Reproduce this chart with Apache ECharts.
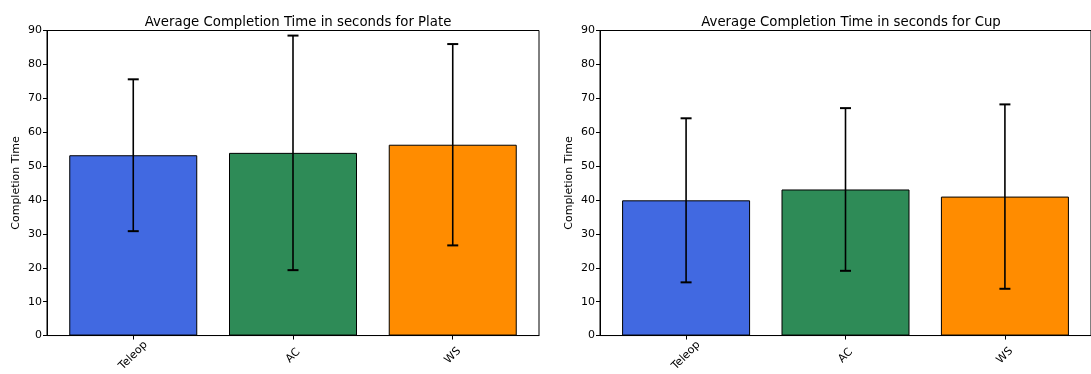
<!DOCTYPE html>
<html><head><meta charset="utf-8">
<script src="https://cdn.jsdelivr.net/npm/echarts@6/dist/echarts.min.js"></script>
<style>html,body{margin:0;padding:0;background:#fff}#c{width:1091px;height:374px}</style>
</head><body><div id="c"></div>
<script>
const categories = ['Teleop', 'AC', 'WS'];
const plateMeans = [53.2, 53.9, 56.3];
const plateStd = [22.4, 34.6, 29.7];
const cupMeans = [39.9, 43.1, 41.0];
const cupStd = [24.2, 24.0, 27.2];
const barColors = ['#4169E1', '#2E8B57', '#FF8C00'];
const yTicks = [0, 10, 20, 30, 40, 50, 60, 70, 80, 90];
const titles = ['Average Completion Time in seconds for Plate', 'Average Completion Time in seconds for Cup'];
const yLabel = 'Completion Time';

const FONT = 'DejaVu Sans';
const catIdx = categories.map((c, i) => i);

function errRender(params, api) {
  const x = api.value(0), lo = api.value(1), hi = api.value(2);
  const pLo = api.coord([x, lo]), pHi = api.coord([x, hi]);
  const hw = 5.5;
  const s = { stroke: '#000', lineWidth: 1.6 };
  const c = { stroke: '#000', lineWidth: 2 };
  return { type: 'group', children: [
    { type: 'line', shape: { x1: pLo[0], y1: pLo[1], x2: pHi[0], y2: pHi[1] }, style: s },
    { type: 'line', shape: { x1: pLo[0] - hw, y1: pLo[1], x2: pLo[0] + hw, y2: pLo[1] }, style: c },
    { type: 'line', shape: { x1: pHi[0] - hw, y1: pHi[1], x2: pHi[0] + hw, y2: pHi[1] }, style: c }
  ]};
}

const lefts = [47, 600];
const gridW = 492;
const grids = lefts.map((l, i) => ({ left: l, top: 30.5, width: i === 1 ? gridW + 3 : gridW, height: 305.5, show: true, borderColor: '#000', borderWidth: 1, backgroundColor: 'transparent' }));

function xAxis(gi) {
  return {
    type: 'value', gridIndex: gi, min: -0.54, max: 2.54,
    axisLine: { show: true, onZero: false, lineStyle: { color: '#000', width: 1 } },
    axisTick: { show: true, customValues: catIdx, length: 4, lineStyle: { color: '#000' } },
    axisLabel: { customValues: catIdx, formatter: v => categories[Math.round(v)], rotate: 45, align: 'center', verticalAlign: 'middle', margin: 20, fontFamily: FONT, fontSize: 11, color: '#000' },
    splitLine: { show: false }
  };
}
function yAxis(gi) {
  return {
    type: 'value', gridIndex: gi, min: yTicks[0], max: yTicks[yTicks.length - 1], interval: yTicks[1] - yTicks[0],
    name: yLabel, nameLocation: 'middle', nameGap: 25,
    nameTextStyle: { fontFamily: FONT, fontSize: 11, color: '#000' },
    axisLine: { show: true, onZero: false, lineStyle: { color: '#000', width: 1 } },
    axisTick: { show: true, length: 4, lineStyle: { color: '#000' } },
    axisLabel: { margin: 5, fontFamily: FONT, fontSize: 11, color: '#000' },
    splitLine: { show: false }
  };
}

const datasets = [[plateMeans, plateStd], [cupMeans, cupStd]];
const series = [];
datasets.forEach(([means, stds], gi) => {
  series.push({
    type: 'bar', xAxisIndex: gi, yAxisIndex: gi, barWidth: 128, z: 2,
    itemStyle: { borderColor: '#000', borderWidth: 1 },
    data: categories.map((c, i) => ({ value: [i, means[i]], itemStyle: { color: barColors[i] } })),
    silent: true
  });
  series.push({
    type: 'custom', xAxisIndex: gi, yAxisIndex: gi, z: 5, renderItem: errRender,
    encode: { x: 0, y: [1, 2] },
    data: categories.map((c, i) => [i, means[i] - stds[i], means[i] + stds[i]]),
    silent: true
  });
});

const chart = echarts.init(document.getElementById('c'), null, { renderer: 'canvas' });
chart.setOption({
  animation: false,
  backgroundColor: '#fff',
  title: titles.map((t, i) => ({ text: t, left: lefts[i] + gridW / 2, top: 11, textAlign: 'center', textStyle: { fontFamily: FONT, fontSize: 13.3, fontWeight: 'normal', color: '#000' } })),
  grid: grids,
  xAxis: [xAxis(0), xAxis(1)],
  yAxis: [yAxis(0), yAxis(1)],
  series: series
});
</script></body></html>
